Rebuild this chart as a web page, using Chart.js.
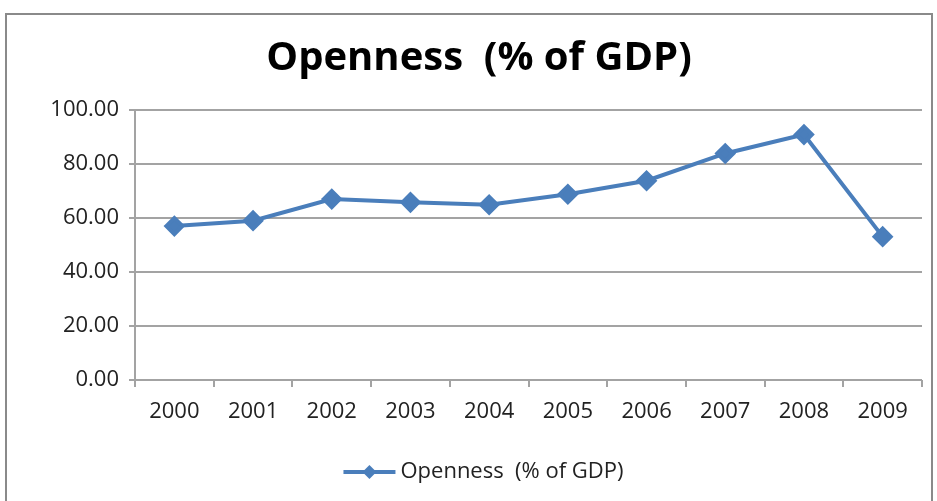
<!DOCTYPE html>
<html>
<head>
<meta charset="utf-8">
<script src="https://cdn.jsdelivr.net/npm/chart.js@4/dist/chart.umd.min.js"></script>
<style>
  html, body { margin: 0; padding: 0; background: #fff; }
  #wrap { position: relative; width: 937px; height: 501px; overflow: hidden; }
  #frame { position: absolute; left: 5px; top: 13px; width: 928px; height: 520px; border: 2px solid #8a8a8a; box-sizing: border-box; }
  #myChart { position: absolute; left: 0; top: 0; }
</style>
</head>
<body>
<div id="wrap">
  <div id="frame"></div>
  <canvas id="myChart" width="937" height="501"></canvas>
</div>
<script>
// Dati: anni e apertura commerciale (% del PIL)
const anni = ['2000', '2001', '2002', '2003', '2004', '2005', '2006', '2007', '2008', '2009'];
const apertura = [57.0, 59.0, 67.0, 65.8, 64.9, 68.8, 73.8, 83.9, 90.9, 53.1];
const titolo = 'Openness  (% of GDP)';

const blu = '#4a7ebb';
const grigio = '#a3a3a3';

Chart.defaults.font.family = "'Open Sans', sans-serif";
Chart.defaults.color = '#222';

// Legenda stile Excel: linea con rombo al centro
const legendaLinea = {
  id: 'legendaLinea',
  afterDraw(chart) {
    const c = chart.ctx;
    const ds = chart.data.datasets[0];
    c.save();
    c.font = "22px 'Open Sans', sans-serif";
    const tw = c.measureText(ds.label).width;
    const lw = 52, gap = 5;
    const x0 = chart.width / 2 + 15 - (lw + gap + tw) / 2;
    const y = 472;
    c.strokeStyle = ds.borderColor;
    c.lineWidth = 4;
    c.beginPath();
    c.moveTo(x0, y);
    c.lineTo(x0 + lw, y);
    c.stroke();
    c.fillStyle = ds.borderColor;
    c.beginPath();
    const cx = x0 + lw / 2, r = 7;
    c.moveTo(cx, y - r); c.lineTo(cx + r, y); c.lineTo(cx, y + r); c.lineTo(cx - r, y);
    c.closePath();
    c.fill();
    c.fillStyle = '#222';
    c.textBaseline = 'middle';
    c.fillText(ds.label, x0 + lw + gap, y);
    c.restore();
  }
};

new Chart(document.getElementById('myChart'), {
  type: 'line',
  data: {
    labels: anni,
    datasets: [{
      label: titolo,
      data: apertura,
      borderColor: blu,
      backgroundColor: blu,
      borderWidth: 4,
      pointStyle: 'rectRot',
      pointRadius: 8,
      pointHoverRadius: 8,
      tension: 0
    }]
  },
  options: {
    responsive: false,
    animation: false,
    layout: { padding: { left: 36, right: 15, top: 0, bottom: 71 } },
    plugins: {
      legend: { display: false },
      tooltip: { enabled: false },
      title: {
        display: true,
        text: titolo,
        color: '#000',
        font: { size: 40, weight: 'bold' },
        padding: { top: 35, bottom: 27 }
      }
    },
    scales: {
      x: {
        offset: true,
        grid: { offset: true, drawOnChartArea: false, drawTicks: true, tickLength: 7, color: grigio, lineWidth: 2 },
        border: { display: false },
        ticks: { font: { size: 22 }, color: '#222', padding: 12 },
        afterFit(scale) { scale.height = 50; }
      },
      y: {
        min: 0,
        max: 100,
        grid: { color: grigio, lineWidth: 2, tickLength: 6 },
        border: { color: grigio, width: 2 },
        ticks: {
          stepSize: 20,
          font: { size: 22 },
          color: '#222',
          padding: 10,
          callback: v => v.toFixed(2)
        },
        afterFit(scale) { scale.width = 99; }
      }
    }
  },
  plugins: [legendaLinea]
});
</script>
</body>
</html>
